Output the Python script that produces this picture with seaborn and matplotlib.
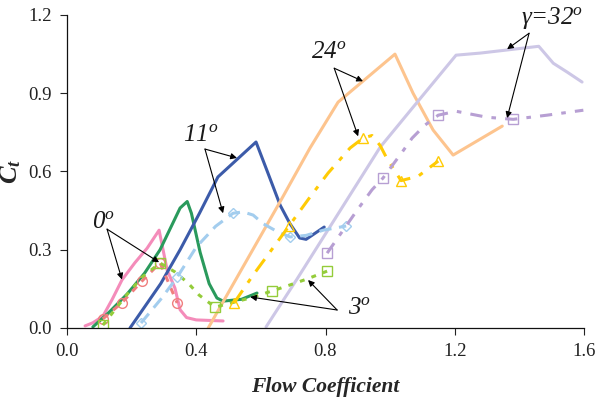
import matplotlib
matplotlib.use("Agg")
import matplotlib.pyplot as plt
import seaborn as sns

# ---- CFD curves (solid) ----
x0c = [0.056, 0.08, 0.111, 0.14, 0.17, 0.21, 0.248, 0.285, 0.31, 0.334, 0.35, 0.37, 0.40, 0.483]
y0c = [0.008, 0.02, 0.045, 0.11, 0.184, 0.25, 0.306, 0.375, 0.222, 0.153, 0.07, 0.04, 0.031, 0.027]

x3c = [0.08, 0.13, 0.186, 0.24, 0.288, 0.35, 0.372, 0.385, 0.412, 0.44, 0.464, 0.483, 0.54, 0.588]
y3c = [0.004, 0.06, 0.13, 0.21, 0.30, 0.46, 0.485, 0.44, 0.29, 0.17, 0.115, 0.103, 0.11, 0.134]

x11c = [0.195, 0.29, 0.35, 0.41, 0.467, 0.585, 0.62, 0.66, 0.69, 0.72, 0.74, 0.796]
y11c = [0.0, 0.17, 0.30, 0.44, 0.579, 0.713, 0.60, 0.47, 0.40, 0.345, 0.34, 0.387]

x24c = [0.437, 0.659, 0.752, 0.839, 1.015, 1.071, 1.133, 1.195, 1.347]
y24c = [0.0, 0.483, 0.69, 0.866, 1.05, 0.90, 0.759, 0.663, 0.774]

x32c = [0.616, 0.712, 0.969, 1.084, 1.204, 1.279, 1.46, 1.505, 1.548, 1.594]
y32c = [0.004, 0.188, 0.693, 0.866, 1.046, 1.054, 1.08, 1.015, 0.981, 0.943]

# ---- experimental curves (dashed, with markers) ----
x0e = [0.111, 0.170, 0.232, 0.288, 0.341]
y0e = [0.035, 0.097, 0.180, 0.25, 0.096]
m0e = [0, 1, 2, 3, 4]

x3e = [0.111, 0.18, 0.232, 0.288, 0.334, 0.375, 0.409, 0.458, 0.52, 0.567, 0.635, 0.69, 0.743, 0.805]
y3e = [0.011, 0.12, 0.195, 0.249, 0.215, 0.172, 0.126, 0.08, 0.10, 0.115, 0.142, 0.165, 0.188, 0.218]
m3e = [0, 3, 7, 10, 13]

x11e = [0.229, 0.29, 0.341, 0.40, 0.46, 0.514, 0.545, 0.576, 0.607, 0.65, 0.69, 0.74, 0.793, 0.864]
y11e = [0.019, 0.11, 0.195, 0.31, 0.39, 0.44, 0.445, 0.433, 0.40, 0.37, 0.349, 0.355, 0.375, 0.391]
m11e = [0, 2, 5, 10, 13]

x24e = [0.517, 0.576, 0.687, 0.752, 0.808, 0.876, 0.916, 0.944, 0.969, 0.99, 1.034, 1.087, 1.124, 1.149]
y24e = [0.096, 0.203, 0.391, 0.502, 0.594, 0.69, 0.728, 0.738, 0.70, 0.65, 0.565, 0.582, 0.617, 0.64]
m24e = [0, 2, 6, 10, 13]

x32e = [0.805, 0.898, 0.944, 0.978, 1.037, 1.068, 1.108, 1.149, 1.204, 1.30, 1.381, 1.486, 1.598]
y32e = [0.287, 0.452, 0.53, 0.575, 0.674, 0.728, 0.778, 0.816, 0.831, 0.808, 0.80, 0.816, 0.835]
m32e = [0, 3, 7, 10]

x_ticks = [0.0, 0.4, 0.8, 1.2, 1.6]
y_ticks = [0.0, 0.3, 0.6, 0.9, 1.2]

sns.set_theme(style="ticks")
plt.rcParams["font.family"] = ["Liberation Serif", "DejaVu Serif"]
plt.rcParams["mathtext.fontset"] = "custom"
plt.rcParams["mathtext.rm"] = "Liberation Serif"
plt.rcParams["mathtext.it"] = "Liberation Serif:italic"
plt.rcParams["mathtext.bf"] = "Liberation Serif:bold"
plt.rcParams["mathtext.bfit"] = "Liberation Serif:italic:bold"

fig = plt.figure(figsize=(6.02, 4.07), dpi=100)
ax = fig.add_axes([67 / 602, 79 / 407, 517 / 602, 313 / 407])

cfd = [
    (x0c, y0c, "#f48cba"),
    (x3c, y3c, "#2a9a5c"),
    (x11c, y11c, "#3c5ba9"),
    (x24c, y24c, "#fdc48e"),
    (x32c, y32c, "#cdc7e6"),
]
for xs, ys, col in cfd:
    sns.lineplot(x=xs, y=ys, ax=ax, color=col, lw=2.2, sort=False,
                 solid_capstyle="round", solid_joinstyle="round")

exp = [
    (x0e, y0e, m0e, "#f07e7e", "o", (0, (2.2, 2.2)), 7),
    (x3e, y3e, m3e, "#94cc3a", "s", (0, (1.6, 2.4)), 7),
    (x11e, y11e, m11e, "#a3cdee", "D", (0, (4, 2.5)), 5.5),
    (x24e, y24e, m24e, "#ffcb05", "^", (0, (5, 3, 1.5, 3)), 7),
    (x32e, y32e, m32e, "#b79fd3", "s", (0, (4, 3, 1.5, 3)), 7),
]
for xs, ys, marks, col, mk, dash, ms in exp:
    sns.lineplot(x=xs, y=ys, ax=ax, color=col, lw=2.2, sort=False,
                 linestyle=dash, marker=mk, markevery=marks, markersize=ms,
                 markerfacecolor="none", markeredgecolor=col, markeredgewidth=1.0)

ax.set_xlim(0, 1.6)
ax.set_ylim(0, 1.2)
ax.set_xticks(x_ticks)
ax.set_yticks(y_ticks)
ax.set_xticklabels([f"{v:.1f}" for v in x_ticks])
ax.set_yticklabels([f"{v:.1f}" for v in y_ticks])
ax.tick_params(axis="both", direction="out", length=5, width=0.8, labelsize=13.5,
               colors="#222222", pad=6)
for side in ("top", "right"):
    ax.spines[side].set_visible(False)
for side in ("left", "bottom"):
    ax.spines[side].set_linewidth(0.9)
    ax.spines[side].set_color("#111111")

ax.set_xlabel("Flow Coefficient", fontsize=15.5, fontweight="bold", fontstyle="italic",
              labelpad=12)
ax.set_ylabel(r"$\mathbfit{C_t}$", fontsize=19)
ax.yaxis.set_label_coords(-0.085, 0.5)

arrow = dict(arrowstyle="-|>", color="black", lw=0.8, mutation_scale=9,
             shrinkA=0, shrinkB=0)
label_font = dict(fontsize=18, ha="center", va="center", fontstyle="italic",
                  color="#1a1a1a")

def callout(text, text_xy, origin, targets):
    ax.text(*text_xy, text, **label_font)
    for t in targets:
        ax.annotate("", xy=t, xytext=origin, arrowprops=arrow)

callout("0$^{o}$", (0.112, 0.405), (0.124, 0.379),
        [(0.170, 0.186), (0.285, 0.252)])
callout("11$^{o}$", (0.415, 0.74), (0.427, 0.686),
        [(0.526, 0.652), (0.483, 0.44)])
callout("3$^{o}$", (0.905, 0.075), (0.836, 0.069),
        [(0.567, 0.119), (0.746, 0.184)])
callout("24$^{o}$", (0.81, 1.06), (0.827, 0.996),
        [(0.916, 0.946), (0.901, 0.735)])
callout("γ=32$^{o}$", (1.50, 1.19), (1.43, 1.13),
        [(1.362, 1.069), (1.362, 0.805)])

fig.savefig("out.png", dpi=100, facecolor="white")
